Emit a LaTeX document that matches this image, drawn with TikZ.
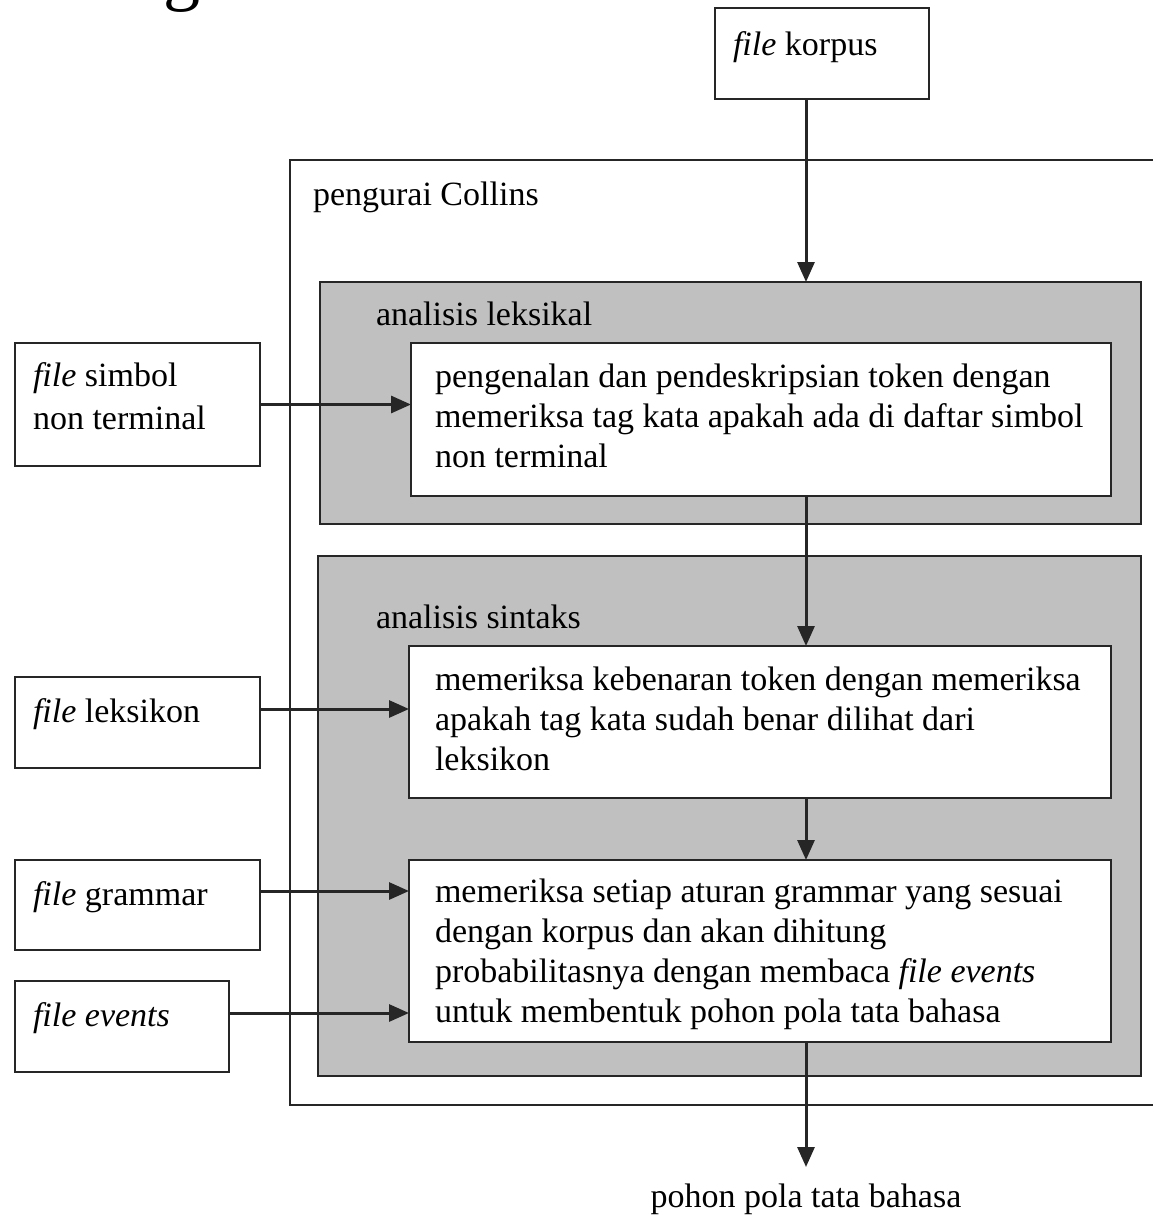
\documentclass[tikz,border=0pt]{standalone}
\usepackage{fontspec}
\setmainfont{Liberation Serif}
\usetikzlibrary{arrows.meta}
\definecolor{panelgrey}{HTML}{C0C0C0}
\definecolor{edge}{HTML}{262626}
\begin{document}
\begin{tikzpicture}[x=1pt,y=-1pt,
  every node/.style={inner sep=0pt, outer sep=0pt},
  frame/.style={draw=edge, line width=2.4pt, anchor=north west, rectangle},
  whitebox/.style={frame, fill=white},
  panel/.style={frame, fill=panelgrey},
  txt/.style={anchor=base west, align=left, font=\fontsize{34}{40}\selectfont},
  flow/.style={draw=edge, line width=3pt, -{Triangle[length=20pt,width=17pt]}}
]
\useasboundingbox (0,0) rectangle (1152,1218);

% stray large glyph from the text above the figure
\node[anchor=base west, font=\fontsize{74}{74}\selectfont] (stray) at (163,-3) {g};

% input file
\node[whitebox, minimum width=214pt, minimum height=91pt] (korpus) at (715,8) {};
\node[txt] (korpusT) at (733,55) {\textit{file} korpus};

% parser frame and its two stages (multi-line texts sit on their last baseline)
\node[whitebox, minimum width=890pt, minimum height=945pt] (parser) at (290,160) {};
\node[txt] (parserT) at (313,205) {pengurai Collins};

\node[panel, minimum width=821pt, minimum height=242pt] (lex) at (320,282) {};
\node[txt] (lexT) at (376,325) {analisis leksikal};
\node[whitebox, minimum width=700pt, minimum height=153pt] (b1) at (411,343) {};
\node[txt] (b1T) at (435,467) {pengenalan dan pendeskripsian token dengan\\
memeriksa tag kata apakah ada di daftar simbol\\non terminal};

\node[panel, minimum width=823pt, minimum height=520pt] (syn) at (318,556) {};
\node[txt] (synT) at (376,628) {analisis sintaks};
\node[whitebox, minimum width=702pt, minimum height=152pt] (b2) at (409,646) {};
\node[txt] (b2T) at (435,770) {memeriksa kebenaran token dengan memeriksa\\
apakah tag kata sudah benar dilihat dari\\leksikon};
\node[whitebox, minimum width=702pt, minimum height=182pt] (b3) at (409,860) {};
\node[txt] (b3T) at (435,1022) {memeriksa setiap aturan grammar yang sesuai\\
dengan korpus dan akan dihitung\\
probabilitasnya dengan membaca \textit{file events}\\
untuk membentuk pohon pola tata bahasa};

% side inputs
\node[whitebox, minimum width=245pt, minimum height=123pt] (simbol) at (15,343) {};
\node[txt, font=\fontsize{34}{43}\selectfont] (simbolT) at (33,429) {\textit{file} simbol\\ non terminal};
\node[whitebox, minimum width=245pt, minimum height=91pt] (leks) at (15,677) {};
\node[txt] (leksT) at (33,722) {\textit{file} leksikon};
\node[whitebox, minimum width=245pt, minimum height=90pt] (gram) at (15,860) {};
\node[txt] (gramT) at (33,905) {\textit{file} grammar};
\node[whitebox, minimum width=214pt, minimum height=91pt] (events) at (15,981) {};
\node[txt] (eventsT) at (33,1026) {\textit{file events}};

% output
\coordinate (outtip) at (806,1167);
\node[anchor=base, font=\fontsize{34}{40}\selectfont] (out) at (806,1207) {pohon pola tata bahasa};

% main flow
\draw[flow] ([xshift=-16pt]korpus.south) -- ([xshift=-16pt]korpus.south |- lex.north);
\draw[flow] (b1.south -| outtip) -- (b2.north -| outtip);
\draw[flow] (b2.south -| outtip) -- (b3.north -| outtip);
\draw[flow] (b3.south -| outtip) -- (outtip);

% side inputs into the stages
\draw[flow] (simbol.east) -- (simbol.east -| b1.west);
\draw[flow] ([yshift=13.5pt]leks.east) -- ([yshift=13.5pt]leks.east -| b2.west);
\draw[flow] ([yshift=14pt]gram.east) -- ([yshift=14pt]gram.east -| b3.west);
\draw[flow] ([yshift=13.5pt]events.east) -- ([yshift=13.5pt]events.east -| b3.west);
\end{tikzpicture}
\end{document}
